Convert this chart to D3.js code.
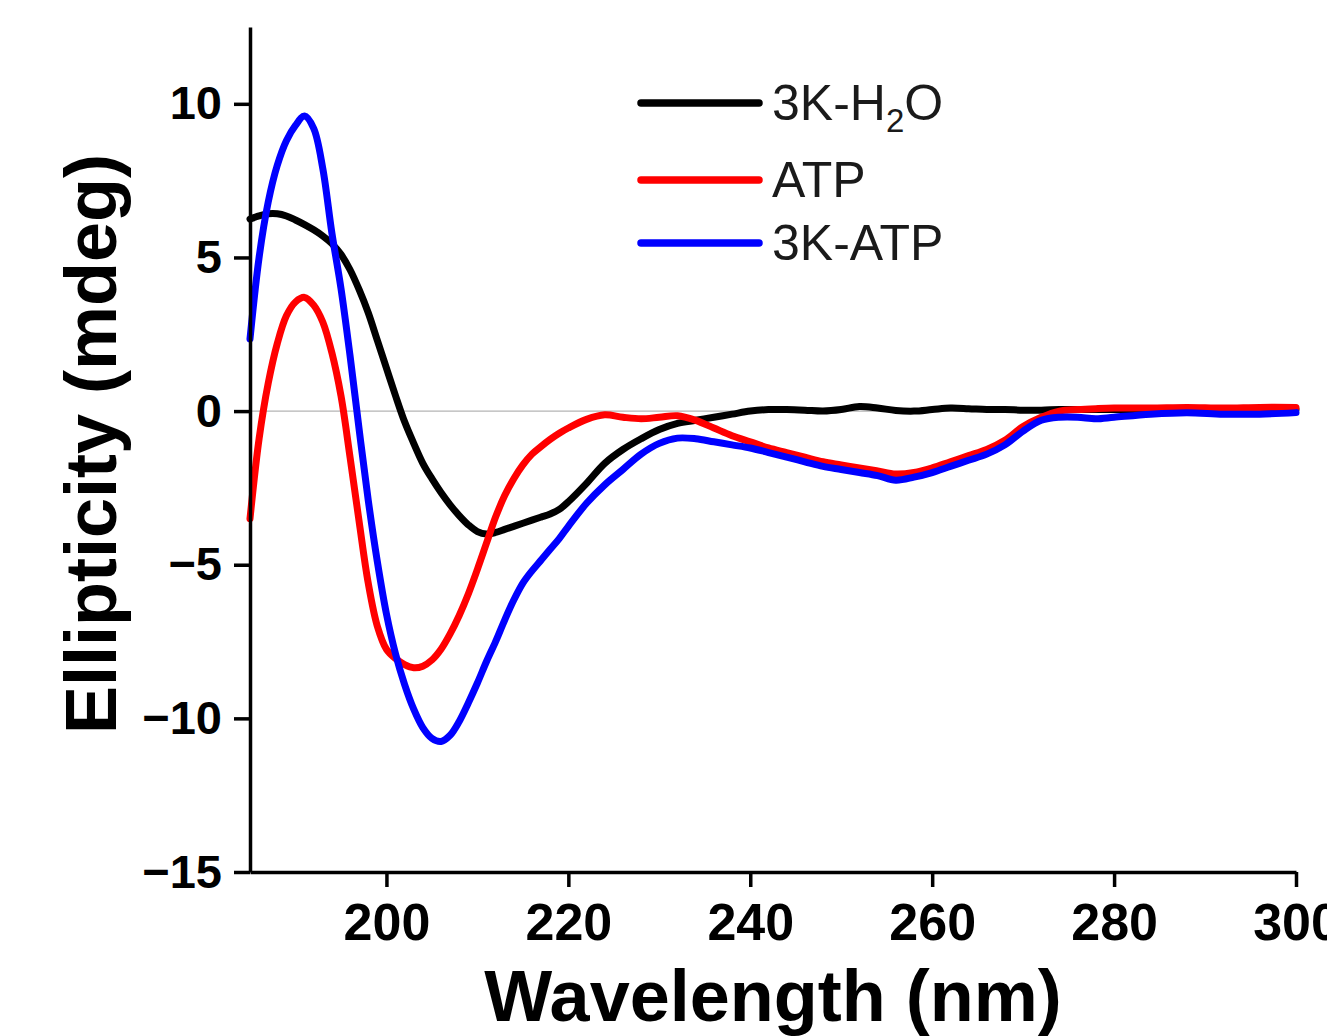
<!DOCTYPE html>
<html>
<head>
<meta charset="utf-8">
<script src="https://cdn.jsdelivr.net/npm/d3@7"></script>
<style>
  html, body { margin: 0; padding: 0; background: #fff; }
  svg { display: block; }
  text { font-family: "Liberation Sans", Arial, sans-serif; }
</style>
</head>
<body>
<svg id="chart" width="1327" height="1036"></svg>
<script>
// ---- data ----
const wavelength = [185,186,187,188,189,190,191,192,193,194,195,196,197,198,199,200,201,202,203,204,205,206,207,208,209,210,211,212,213,214,215,216,217,218,219,220,222,224,226,228,230,232,234,236,238,240,242,244,246,248,250,252,254,256,258,260,262,264,266,268,270,272,274,276,278,280,284,288,292,296,300];

const k3H2O = [6.25,6.35,6.42,6.42,6.35,6.22,6.07,5.9,5.7,5.45,5.1,4.6,3.95,3.2,2.3,1.4,0.5,-0.35,-1.05,-1.7,-2.2,-2.65,-3.05,-3.4,-3.7,-3.92,-4.0,-3.95,-3.85,-3.75,-3.65,-3.55,-3.45,-3.35,-3.2,-2.95,-2.35,-1.7,-1.25,-0.9,-0.6,-0.4,-0.3,-0.2,-0.1,0.0,0.05,0.05,0.03,0.0,0.05,0.15,0.1,0.02,0.0,0.05,0.1,0.08,0.05,0.05,0.03,0.03,0.05,0.05,0.05,0.05,0.05,0.05,0.05,0.05,0.05];

const atp = [-3.5,-0.9,0.9,2.2,3.1,3.55,3.7,3.45,2.9,1.9,0.5,-1.5,-3.6,-5.6,-7.0,-7.75,-8.05,-8.25,-8.35,-8.3,-8.1,-7.75,-7.25,-6.65,-5.95,-5.15,-4.3,-3.45,-2.75,-2.2,-1.75,-1.4,-1.15,-0.92,-0.72,-0.55,-0.27,-0.12,-0.2,-0.25,-0.2,-0.15,-0.3,-0.55,-0.8,-1.0,-1.2,-1.35,-1.5,-1.65,-1.75,-1.85,-1.95,-2.05,-2.0,-1.85,-1.65,-1.45,-1.25,-0.95,-0.5,-0.2,0.0,0.05,0.08,0.1,0.1,0.12,0.1,0.12,0.12];

const k3ATP = [2.35,5.0,6.8,8.0,8.8,9.3,9.6,9.2,7.9,5.8,4.0,1.8,-0.6,-2.9,-4.9,-6.6,-7.9,-8.9,-9.7,-10.3,-10.65,-10.75,-10.55,-10.1,-9.5,-8.85,-8.15,-7.5,-6.8,-6.15,-5.6,-5.2,-4.85,-4.5,-4.15,-3.75,-3.0,-2.4,-1.9,-1.4,-1.05,-0.88,-0.9,-1.0,-1.1,-1.2,-1.35,-1.5,-1.65,-1.8,-1.9,-2.0,-2.1,-2.25,-2.15,-2.0,-1.8,-1.6,-1.4,-1.1,-0.65,-0.3,-0.2,-0.2,-0.25,-0.2,-0.1,-0.05,-0.1,-0.1,-0.05];

const seriesNames = ["3K-H2O", "ATP", "3K-ATP"];
const seriesColors = ["#000000", "#ff0000", "#0000ff"];
const xTicks = [200, 220, 240, 260, 280, 300];
const yTicks = [-15, -10, -5, 0, 5, 10];
const xDomain = [185, 300];
const yDomain = [-15, 12.5];
const xTitle = "Wavelength (nm)";
const yTitle = "Ellipticity (mdeg)";

// ---- chart ----
const svg = d3.select("#chart");
const x = d3.scaleLinear().domain(xDomain).range([250, 1296]);
const y = d3.scaleLinear().domain(yDomain).range([872, 27]);

// zero reference line
svg.append("line")
  .attr("x1", x(xDomain[0])).attr("x2", x(xDomain[1]))
  .attr("y1", y(0)).attr("y2", y(0))
  .attr("stroke", "#b4b4b4").attr("stroke-width", 1.3);

const seriesValues = [k3H2O, atp, k3ATP];
const line = d3.line()
  .x((d, i) => x(wavelength[i]))
  .y(d => y(d))
  .curve(d3.curveCatmullRom.alpha(0.5));

seriesValues.forEach((vals, si) => {
  svg.append("path")
    .datum(vals)
    .attr("d", line)
    .attr("fill", "none")
    .attr("stroke", seriesColors[si])
    .attr("stroke-width", 7)
    .attr("stroke-linejoin", "round")
    .attr("stroke-linecap", "round");
});

// axes
const xAxis = svg.append("g")
  .attr("transform", `translate(0,${y(yDomain[0])})`)
  .call(d3.axisBottom(x).tickValues(xTicks).tickSize(15).tickSizeOuter(0).tickPadding(16).tickFormat(d3.format("d")));
xAxis.select(".domain").attr("stroke", "#000").attr("stroke-width", 3.5);
xAxis.selectAll(".tick line").attr("stroke", "#000").attr("stroke-width", 3.5);
xAxis.selectAll(".tick text")
  .attr("fill", "#000")
  .style("font-family", "'Liberation Sans', Arial, sans-serif")
  .style("font-size", "52px").style("font-weight", "bold");

const yAxis = svg.append("g")
  .attr("transform", `translate(${x(xDomain[0])},0)`)
  .call(d3.axisLeft(y).tickValues(yTicks).tickSize(16).tickSizeOuter(0).tickPadding(12));
yAxis.select(".domain").attr("stroke", "#000").attr("stroke-width", 3.5);
yAxis.selectAll(".tick line").attr("stroke", "#000").attr("stroke-width", 3.5);
yAxis.selectAll(".tick text")
  .attr("fill", "#000")
  .style("font-family", "'Liberation Sans', Arial, sans-serif")
  .style("font-size", "47px").style("font-weight", "bold");

// axis titles
svg.append("text")
  .attr("x", (x.range()[0] + x.range()[1]) / 2)
  .attr("y", 1021)
  .attr("text-anchor", "middle")
  .style("font-size", "72px").style("font-weight", "bold")
  .text(xTitle);

svg.append("text")
  .attr("transform", "translate(116,444) rotate(-90)")
  .attr("text-anchor", "middle")
  .style("font-size", "72px").style("font-weight", "bold")
  .text(yTitle);

// legend
const legendY = [103, 180, 243];
const legend = svg.append("g");
seriesNames.forEach((name, i) => {
  legend.append("line")
    .attr("x1", 641).attr("x2", 759)
    .attr("y1", legendY[i]).attr("y2", legendY[i])
    .attr("stroke", seriesColors[i]).attr("stroke-width", 7.5)
    .attr("stroke-linecap", "round");
  const t = legend.append("text")
    .attr("x", 772).attr("y", legendY[i] + 17)
    .style("font-size", "50px").attr("fill", "#1a1a1a");
  if (name === "3K-H2O") {
    t.append("tspan").text("3K-H");
    t.append("tspan").attr("dy", 12).style("font-size", "33px").text("2");
    t.append("tspan").attr("dy", -12).text("O");
  } else {
    t.text(name);
  }
});
</script>
</body>
</html>
